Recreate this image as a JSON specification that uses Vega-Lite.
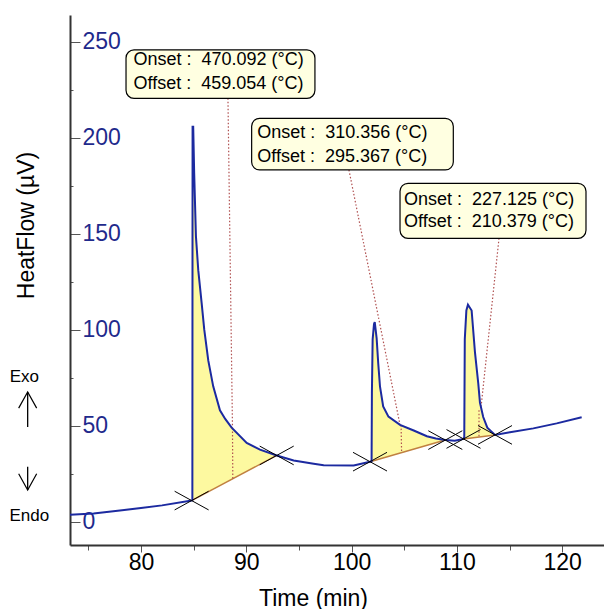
{
  "$schema": "https://vega.github.io/schema/vega-lite/v6.json",
  "width": 534,
  "height": 530,
  "autosize": {"type": "none"},
  "padding": {"left": 70, "top": 15, "right": 0, "bottom": 64},
  "background": "white",
  "config": {"view": {"stroke": null}, "font": "Liberation Sans"},
  "datasets": {
    "curve": [
      {"t": 73.26, "v": 3.6},
      {"t": 75.5, "v": 4.3},
      {"t": 78, "v": 5.8},
      {"t": 80, "v": 7.1},
      {"t": 82, "v": 8.5},
      {"t": 84.81, "v": 11.0, "b": 11.0, "peak": 1},
      {"t": 84.88, "v": 11.2, "b": 11.2, "peak": 1},
      {"t": 84.9, "v": 205.7, "b": 11.26, "peak": 1},
      {"t": 84.96, "v": 205.7, "b": 11.44, "peak": 1},
      {"t": 85.05, "v": 182, "b": 11.7, "peak": 1},
      {"t": 85.22, "v": 148.6, "b": 12.19, "peak": 1},
      {"t": 85.44, "v": 131, "b": 12.83, "peak": 1},
      {"t": 85.76, "v": 114, "b": 13.76, "peak": 1},
      {"t": 86.01, "v": 100, "b": 14.49, "peak": 1},
      {"t": 86.39, "v": 84, "b": 15.59, "peak": 1},
      {"t": 86.86, "v": 70.5, "b": 16.96, "peak": 1},
      {"t": 87.5, "v": 58, "b": 18.82, "peak": 1},
      {"t": 88.0, "v": 53.5, "b": 20.28, "peak": 1},
      {"t": 88.61, "v": 49, "b": 22.05, "peak": 1},
      {"t": 90.04, "v": 41, "b": 26.21, "peak": 1},
      {"t": 91.3, "v": 37.5, "b": 29.87, "peak": 1},
      {"t": 92.89, "v": 34.5, "b": 34.5, "peak": 1},
      {"t": 94.5, "v": 31.9},
      {"t": 96.4, "v": 30.2},
      {"t": 97.35, "v": 29.4},
      {"t": 100.2, "v": 29.3},
      {"t": 101.75, "v": 31.25, "b": 31.25, "peak": 2},
      {"t": 101.9, "v": 31.5, "b": 31.49, "peak": 2},
      {"t": 101.93, "v": 67, "b": 31.54, "peak": 2},
      {"t": 102.0, "v": 95, "b": 31.64, "peak": 2},
      {"t": 102.13, "v": 103, "b": 31.85, "peak": 2},
      {"t": 102.2, "v": 104, "b": 31.96, "peak": 2},
      {"t": 102.38, "v": 95.5, "b": 32.24, "peak": 2},
      {"t": 102.53, "v": 82.5, "b": 32.48, "peak": 2},
      {"t": 102.7, "v": 70.3, "b": 32.74, "peak": 2},
      {"t": 103.0, "v": 60, "b": 33.22, "peak": 2},
      {"t": 103.5, "v": 54.7, "b": 34.0, "peak": 2},
      {"t": 104.6, "v": 50.4, "b": 35.73, "peak": 2},
      {"t": 105.9, "v": 47.5, "b": 37.78, "peak": 2},
      {"t": 107.15, "v": 44.5, "b": 39.74, "peak": 2},
      {"t": 108.0, "v": 43.3, "b": 41.08, "peak": 2},
      {"t": 108.9, "v": 42.5, "b": 42.5, "peak": 2},
      {"t": 109.8, "v": 42.2},
      {"t": 110.63, "v": 43.1, "b": 43.1, "peak": 3},
      {"t": 110.7, "v": 44, "b": 43.15, "peak": 3},
      {"t": 110.75, "v": 95, "b": 43.18, "peak": 3},
      {"t": 110.9, "v": 110, "b": 43.29, "peak": 3},
      {"t": 111.05, "v": 113, "b": 43.39, "peak": 3},
      {"t": 111.4, "v": 110, "b": 43.64, "peak": 3},
      {"t": 111.72, "v": 88, "b": 43.87, "peak": 3},
      {"t": 112.03, "v": 72, "b": 44.08, "peak": 3},
      {"t": 112.19, "v": 62, "b": 44.2, "peak": 3},
      {"t": 112.5, "v": 54.5, "b": 44.42, "peak": 3},
      {"t": 112.89, "v": 49, "b": 44.69, "peak": 3},
      {"t": 113.62, "v": 45.2, "b": 45.2, "peak": 3},
      {"t": 115.04, "v": 46.6},
      {"t": 117.26, "v": 48.6},
      {"t": 119.48, "v": 51.2},
      {"t": 121.85, "v": 54.4}
    ],
    "markers": [
      {"t": 84.81, "v": 11.0},
      {"t": 92.89, "v": 34.5},
      {"t": 101.75, "v": 31.25},
      {"t": 108.9, "v": 42.5},
      {"t": 110.63, "v": 43.1},
      {"t": 113.62, "v": 45.2}
    ],
    "tangents": [
      {"t": 84.81, "v": 11.0, "t2": 92.89, "v2": 34.5},
      {"t": 101.75, "v": 31.25, "t2": 108.9, "v2": 42.5},
      {"t": 110.63, "v": 43.1, "t2": 113.62, "v2": 45.2}
    ],
    "leaders": [
      {"t": 88.26, "v": 220.5, "t2": 88.69, "v2": 48.8},
      {"t": 88.69, "v": 48.8, "t2": 88.72, "v2": 22.37},
      {"t": 99.75, "v": 183.2, "t2": 104.6, "v2": 50.4},
      {"t": 104.7, "v": 50.3, "t2": 104.75, "v2": 35.97},
      {"t": 114.0, "v": 147.6, "t2": 112.3, "v2": 60},
      {"t": 112.1, "v": 58, "t2": 112.1, "v2": 44.13}
    ],
    "boxes": [
      {"t": 78.58, "v": 245.7, "t2": 96.52, "v2": 220.5},
      {"t": 90.51, "v": 210.1, "t2": 109.66, "v2": 183.2},
      {"t": 104.6, "v": 176.25, "t2": 122.26, "v2": 147.6}
    ],
    "boxtext": [
      {"t": 79.29, "v": 240.5, "text": "Onset : \u00a0470.092 (°C)"},
      {"t": 79.29, "v": 228.0, "text": "Offset : \u00a0459.054 (°C)"},
      {"t": 91.04, "v": 202.3, "text": "Onset : \u00a0310.356 (°C)"},
      {"t": 91.04, "v": 190.1, "text": "Offset : \u00a0295.367 (°C)"},
      {"t": 104.98, "v": 167.6, "text": "Onset : \u00a0227.125 (°C)"},
      {"t": 104.98, "v": 156.25, "text": "Offset : \u00a0210.379 (°C)"}
    ],
    "side": [
      {"t": 68.92, "v": 75.1, "text": "Exo"},
      {"t": 69.39, "v": 2.97, "text": "Endo"}
    ],
    "arrows": [
      {"t": 69.24, "v": 67.6, "t2": 69.24, "v2": 49.3, "dir": "up"},
      {"t": 69.24, "v": 28.6, "t2": 69.24, "v2": 16.5, "dir": "down"}
    ],
    "heads": [
      {"t": 69.24, "v": 67.6, "dir": "up"},
      {"t": 69.24, "v": 16.5, "dir": "down"}
    ]
  },
  "layer": [
    {
      "data": {"name": "curve"},
      "transform": [{"filter": "datum.peak != null"}],
      "mark": {"type": "area", "color": "#fdf9a0", "opacity": 1},
      "encoding": {
        "x": {
          "field": "t", "type": "quantitative",
          "scale": {"domain": [73.26, 123.97], "nice": false, "zero": false},
          "axis": {
            "title": "Time (min)",
            "values": [75, 80, 85, 90, 95, 100, 105, 110, 115, 120],
            "labelExpr": "datum.value % 10 === 0 ? datum.label : ''",
            "tickSize": {"condition": {"test": "datum.value % 10 === 0", "value": 7}, "value": 5},
            "tickColor": "#555555",
            "domainColor": "#333333",
            "domainWidth": 2,
            "grid": false,
            "labelFont": "Liberation Sans",
            "labelFontSize": 23,
            "labelColor": "#000000",
            "labelPadding": -1,
            "labelFlush": false,
            "labelOverlap": false,
            "titleFont": "Liberation Sans",
            "titleFontSize": 23,
            "titleFontWeight": "normal",
            "titleColor": "#000000",
            "titleBaseline": "alphabetic",
            "titleX": 243,
            "titleY": 60
          }
        },
        "y": {
          "field": "v", "type": "quantitative",
          "scale": {"domain": [-12.14, 263.9], "nice": false, "zero": false},
          "axis": {
            "title": "HeatFlow (µV)",
            "values": [0, 25, 50, 75, 100, 125, 150, 175, 200, 225, 250],
            "labelExpr": "datum.value % 50 === 0 ? datum.label : ''",
            "tickSize": {"condition": {"test": "datum.value % 50 === 0", "value": -10}, "value": -3},
            "tickColor": "#555555",
            "domainColor": "#333333",
            "domainWidth": 2,
            "grid": false,
            "labelAlign": "left",
            "labelBaseline": "middle",
            "labelPadding": -2,
            "labelFont": "Liberation Sans",
            "labelFontSize": 23,
            "labelColor": "#1f2a8c",
            "labelFlush": false,
            "labelOverlap": false,
            "titleFont": "Liberation Sans",
            "titleFontSize": 23,
            "titleFontWeight": "normal",
            "titleColor": "#000000",
            "titleBaseline": "middle",
            "titleX": -44,
            "titleY": 210
          }
        },
        "y2": {"field": "b"},
        "detail": {"field": "peak", "type": "nominal"}
      }
    },
    {
      "data": {"name": "tangents"},
      "mark": {"type": "rule", "color": "#c08040", "strokeWidth": 1.5},
      "encoding": {
        "x": {"field": "t", "type": "quantitative"},
        "y": {"field": "v", "type": "quantitative"},
        "x2": {"field": "t2"},
        "y2": {"field": "v2"}
      }
    },
    {
      "data": {"name": "leaders"},
      "mark": {"type": "rule", "color": "#b05050", "strokeWidth": 1.2, "strokeDash": [1.5, 2]},
      "encoding": {
        "x": {"field": "t", "type": "quantitative"},
        "y": {"field": "v", "type": "quantitative"},
        "x2": {"field": "t2"},
        "y2": {"field": "v2"}
      }
    },
    {
      "data": {"name": "curve"},
      "mark": {"type": "line", "color": "#1c2aa0", "strokeWidth": 2},
      "encoding": {
        "x": {"field": "t", "type": "quantitative"},
        "y": {"field": "v", "type": "quantitative"},
        "order": {"field": "t", "type": "quantitative"}
      }
    },
    {
      "data": {"name": "markers"},
      "mark": {"type": "point", "shape": "M-1,-0.55L1,0.55M-1,0.55L1,-0.55", "size": 1156, "filled": false, "color": "#000000", "strokeWidth": 1, "opacity": 1},
      "encoding": {
        "x": {"field": "t", "type": "quantitative"},
        "y": {"field": "v", "type": "quantitative"}
      }
    },
    {
      "data": {"name": "boxes"},
      "mark": {"type": "rect", "fill": "#ffffe1", "stroke": "#000000", "strokeWidth": 1.2, "cornerRadius": 8},
      "encoding": {
        "x": {"field": "t", "type": "quantitative"},
        "y": {"field": "v", "type": "quantitative"},
        "x2": {"field": "t2"},
        "y2": {"field": "v2"}
      }
    },
    {
      "data": {"name": "boxtext"},
      "mark": {"type": "text", "align": "left", "baseline": "middle", "font": "Liberation Sans", "fontSize": 18, "color": "#000000"},
      "encoding": {
        "x": {"field": "t", "type": "quantitative"},
        "y": {"field": "v", "type": "quantitative"},
        "text": {"field": "text"}
      }
    },
    {
      "data": {"name": "side"},
      "mark": {"type": "text", "align": "center", "baseline": "middle", "font": "Liberation Sans", "fontSize": 17, "color": "#000000"},
      "encoding": {
        "x": {"field": "t", "type": "quantitative"},
        "y": {"field": "v", "type": "quantitative"},
        "text": {"field": "text"}
      }
    },
    {
      "data": {"name": "arrows"},
      "mark": {"type": "rule", "color": "#000000", "strokeWidth": 1.3},
      "encoding": {
        "x": {"field": "t", "type": "quantitative"},
        "y": {"field": "v", "type": "quantitative"},
        "x2": {"field": "t2"},
        "y2": {"field": "v2"}
      }
    },
    {
      "data": {"name": "heads"},
      "mark": {"type": "point", "size": 324, "filled": false, "color": "#000000", "strokeWidth": 1.2, "opacity": 1},
      "encoding": {
        "x": {"field": "t", "type": "quantitative"},
        "y": {"field": "v", "type": "quantitative"},
        "shape": {
          "field": "dir", "type": "nominal",
          "scale": {"domain": ["up", "down"], "range": ["M-1,1.8L0,0L1,1.8", "M-1,-1.8L0,0L1,-1.8"]},
          "legend": null
        }
      }
    }
  ]
}
